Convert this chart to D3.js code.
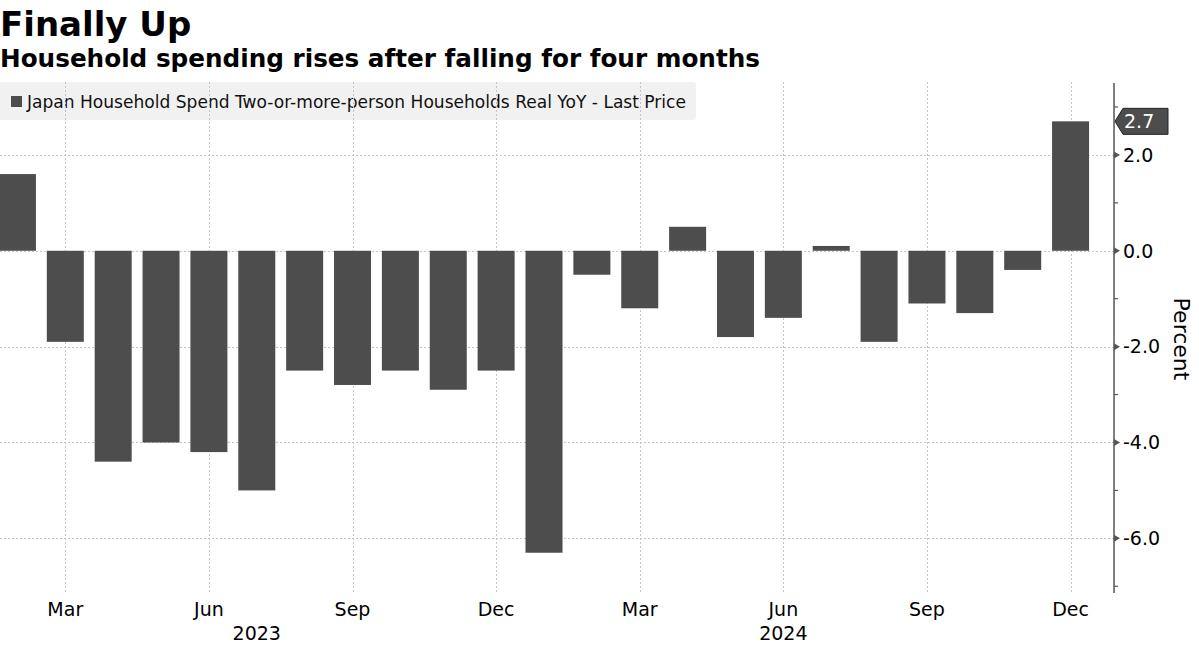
<!DOCTYPE html>
<html>
<head>
<meta charset="utf-8">
<script src="https://cdn.jsdelivr.net/npm/d3@7"></script>
<style>
  html, body { margin: 0; padding: 0; background: #fff; }
  svg { display: block; }
  text { font-family: "DejaVu Sans", Verdana, sans-serif; }
</style>
</head>
<body>
<svg id="chart" width="1199" height="645"></svg>
<script>
// ---- data ----
const months = ["Feb 2023","Mar 2023","Apr 2023","May 2023","Jun 2023","Jul 2023","Aug 2023","Sep 2023","Oct 2023","Nov 2023","Dec 2023",
                "Jan 2024","Feb 2024","Mar 2024","Apr 2024","May 2024","Jun 2024","Jul 2024","Aug 2024","Sep 2024","Oct 2024","Nov 2024","Dec 2024"];
const values = [1.6, -1.9, -4.4, -4.0, -4.2, -5.0, -2.5, -2.8, -2.5, -2.9, -2.5,
                -6.3, -0.5, -1.2, 0.5, -1.8, -1.4, 0.1, -1.9, -1.1, -1.3, -0.4, 2.7];
const monthTickLabels = ["Mar","Jun","Sep","Dec","Mar","Jun","Sep","Dec"];
const monthTickIdx = [1, 4, 7, 10, 13, 16, 19, 22];
const yearLabels = ["2023", "2024"];
const yearLabelIdx = [5, 16];
const yMajorTicks = [-6, -4, -2, 0, 2];
const yMinorTicks = [-7, -5, -3, -1, 1, 3];
const titleText = "Finally Up";
const subtitleText = "Household spending rises after falling for four months";
const legendText = "Japan Household Spend Two-or-more-person Households Real YoY - Last Price";
const axisTitle = "Percent";

// ---- layout ----
const svg = d3.select("#chart");
const plotTop = 83, plotBottom = 593, axisX = 1114;
const barColor = "#4d4d4d";
const x = d3.scaleLinear().domain([-0.5, months.length - 0.5]).range([-6.5, 1094.5]);
const y = d3.scaleLinear().domain([-7.14, 3.5]).range([plotBottom, plotTop]);
const barW = 37;

// titles
svg.append("text").attr("x", 0).attr("y", 36).attr("font-size", 34).attr("font-weight", "bold")
  .attr("fill", "#000").text(titleText);
svg.append("text").attr("x", 0).attr("y", 67).attr("font-size", 24).attr("font-weight", "bold")
  .attr("fill", "#000").attr("textLength", 760).attr("lengthAdjust", "spacingAndGlyphs").text(subtitleText);

// legend box
svg.append("rect").attr("x", -4).attr("y", 82).attr("width", 700).attr("height", 38).attr("rx", 3)
  .attr("fill", "#f1f1f1");
svg.append("rect").attr("x", 11).attr("y", 96).attr("width", 11).attr("height", 11).attr("fill", barColor);
svg.append("text").attr("x", 27).attr("y", 108).attr("font-size", 17).attr("fill", "#111")
  .attr("textLength", 659).attr("lengthAdjust", "spacingAndGlyphs").text(legendText);

// grid
const grid = svg.append("g").attr("stroke", "#c4c4c4").attr("stroke-width", 1).attr("stroke-dasharray", "2,2");
grid.selectAll("line.h").data(yMajorTicks).join("line").attr("class", "h")
  .attr("x1", 0).attr("x2", axisX).attr("y1", d => Math.round(y(d)) + 0.5).attr("y2", d => Math.round(y(d)) + 0.5);
grid.selectAll("line.v").data(monthTickIdx).join("line").attr("class", "v")
  .attr("x1", d => Math.round(x(d)) + 0.5).attr("x2", d => Math.round(x(d)) + 0.5)
  .attr("y1", 82).attr("y2", plotBottom);

// bars
svg.append("g").selectAll("rect").data(values).join("rect")
  .attr("x", (d, i) => x(i) - barW / 2)
  .attr("width", barW)
  .attr("y", d => y(Math.max(0, d)))
  .attr("height", d => Math.abs(y(d) - y(0)))
  .attr("fill", barColor);

// y axis
svg.append("line").attr("x1", axisX).attr("x2", axisX).attr("y1", plotTop).attr("y2", plotBottom)
  .attr("stroke", "#555").attr("stroke-width", 1.5);
svg.append("g").selectAll("line").data(yMinorTicks).join("line")
  .attr("x1", axisX).attr("x2", axisX + 4).attr("y1", d => y(d)).attr("y2", d => y(d))
  .attr("stroke", "#555").attr("stroke-width", 1.2);
svg.append("g").selectAll("path").data(yMajorTicks).join("path")
  .attr("d", d => `M${axisX},${y(d) - 3.5} L${axisX + 6},${y(d)} L${axisX},${y(d) + 3.5} Z`)
  .attr("fill", "#555");
svg.append("g").selectAll("text").data(yMajorTicks).join("text")
  .attr("x", 1123).attr("y", d => y(d)).attr("dy", "0.36em").attr("font-size", 19).attr("fill", "#000")
  .text(d => d3.format(".1f")(d).replace("−", "-"));

// axis title
svg.append("text").attr("transform", `translate(1174,339) rotate(90)`).attr("text-anchor", "middle")
  .attr("font-size", 22).attr("fill", "#000").text(axisTitle);

// last value label
const lastV = values[values.length - 1];
const ly = y(lastV);
svg.append("path")
  .attr("d", `M${axisX + 1},${ly} L${axisX + 9},${ly - 13} L${1168},${ly - 13} L${1168},${ly + 13} L${axisX + 9},${ly + 13} Z`)
  .attr("fill", barColor).attr("stroke", "#222").attr("stroke-width", 1);
svg.append("text").attr("x", 1124).attr("y", ly).attr("dy", "0.36em").attr("font-size", 19).attr("fill", "#fff")
  .text(d3.format(".1f")(lastV));

// x axis labels
svg.append("g").selectAll("text").data(monthTickIdx).join("text")
  .attr("x", d => x(d)).attr("y", 616).attr("text-anchor", "middle").attr("font-size", 19).attr("fill", "#000")
  .text((d, i) => monthTickLabels[i]);
svg.append("g").selectAll("text").data(yearLabelIdx).join("text")
  .attr("x", d => x(d)).attr("y", 640).attr("text-anchor", "middle").attr("font-size", 19).attr("fill", "#000")
  .text((d, i) => yearLabels[i]);
</script>
</body>
</html>
